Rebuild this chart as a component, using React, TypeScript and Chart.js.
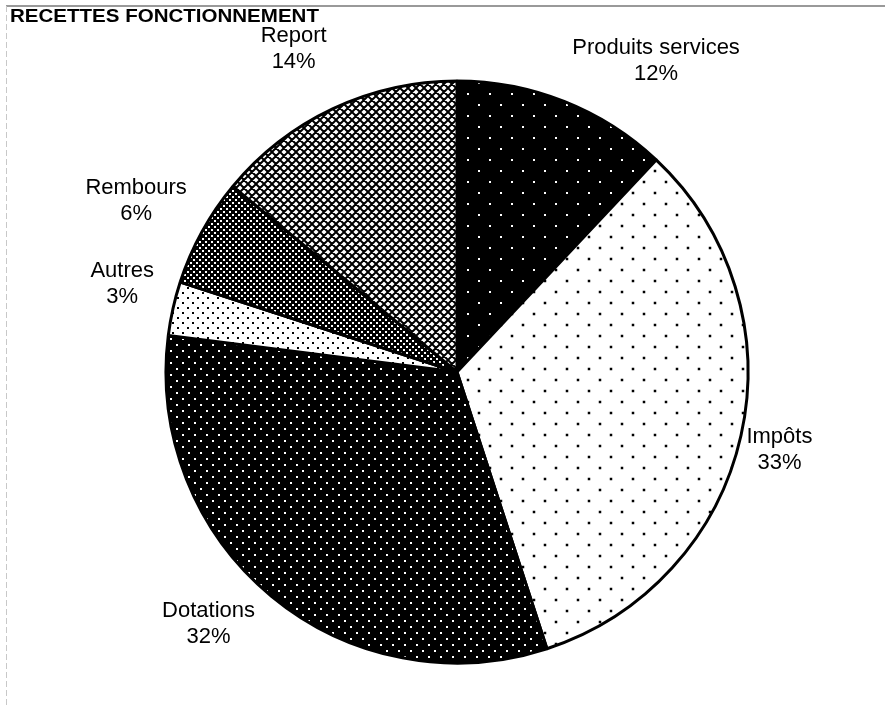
import React, { useEffect, useRef } from "react";
import { Chart, registerables } from "chart.js";

Chart.register(...registerables);

const chartTitle = "RECETTES FONCTIONNEMENT";
const categories = ["Produits services", "Impôts", "Dotations", "Autres", "Rembours", "Report"];
const values = [12, 33, 32, 3, 6, 14];

// label placement: shift from slice mid-angle (degrees) and distance as multiple of radius
const labelAngleShift = [11, 1, 5, 2.2, -0.7, -1.6];
const labelDistance = [1.27, 1.14, 1.216, 1.19, 1.25, 1.245];

const FONT = "'Liberation Sans', Arial, Helvetica, sans-serif";

function tile(w: number, h: number, draw: (c: CanvasRenderingContext2D) => void): CanvasPattern | string {
  const cv = document.createElement("canvas");
  cv.width = w;
  cv.height = h;
  const c = cv.getContext("2d")!;
  draw(c);
  const p = document.createElement("canvas").getContext("2d")!.createPattern(cv, "repeat");
  return p || "#000";
}

function dotTile(size: number, bg: string, fg: string, d: number) {
  return tile(size, size, (c) => {
    c.fillStyle = bg;
    c.fillRect(0, 0, size, size);
    c.fillStyle = fg;
    const a = Math.round(size / 4);
    const b = a + size / 2;
    c.fillRect(a - d / 2, a - d / 2, d, d);
    c.fillRect(b - d / 2, b - d / 2, d, d);
  });
}

function hatchTile(size: number, lw: number) {
  return tile(size, size, (c) => {
    c.fillStyle = "#fff";
    c.fillRect(0, 0, size, size);
    c.strokeStyle = "#000";
    c.lineWidth = lw;
    c.beginPath();
    for (let k = -1; k <= 1; k++) {
      c.moveTo(k * size, 0);
      c.lineTo(k * size + size, size);
      c.moveTo(k * size + size, 0);
      c.lineTo(k * size, size);
    }
    c.stroke();
  });
}

const framePlugin = {
  id: "frame",
  beforeDraw(chart: any) {
    const ctx = chart.ctx;
    ctx.save();
    ctx.fillStyle = "#fff";
    ctx.fillRect(0, 0, chart.width, chart.height);
    ctx.strokeStyle = "#777";
    ctx.lineWidth = 1.5;
    ctx.beginPath();
    ctx.moveTo(6, 6);
    ctx.lineTo(chart.width, 6);
    ctx.stroke();
    ctx.strokeStyle = "#c8c8c8";
    ctx.lineWidth = 1;
    ctx.setLineDash([6, 3]);
    ctx.beginPath();
    ctx.moveTo(6.5, 6);
    ctx.lineTo(6.5, chart.height);
    ctx.stroke();
    ctx.restore();
  },
};

const labelPlugin = {
  id: "sliceLabels",
  afterDatasetsDraw(chart: any) {
    const ctx = chart.ctx;
    const meta = chart.getDatasetMeta(0);
    const data = chart.data.datasets[0].data as number[];
    const total = data.reduce((s, v) => s + v, 0);
    ctx.save();
    ctx.fillStyle = "#000";
    ctx.textAlign = "center";
    ctx.textBaseline = "middle";
    ctx.font = `22px ${FONT}`;
    meta.data.forEach((arc: any, i: number) => {
      const p = arc.getProps(["x", "y", "startAngle", "endAngle", "outerRadius"], true);
      const a = (p.startAngle + p.endAngle) / 2 + (labelAngleShift[i] * Math.PI) / 180;
      const r = p.outerRadius * labelDistance[i];
      const cx = p.x + Math.cos(a) * r;
      const cy = p.y + Math.sin(a) * r;
      ctx.fillText(chart.data.labels[i], cx, cy - 13);
      ctx.fillText(Math.round((data[i] / total) * 100) + "%", cx, cy + 13);
    });
    ctx.textAlign = "left";
    ctx.font = `bold 19px ${FONT}`;
    ctx.translate(10, 17);
    ctx.scale(1.08, 1);
    ctx.fillText(chartTitle, 0, 0);
    ctx.restore();
  },
};

export default function App() {
  const ref = useRef<HTMLCanvasElement>(null);
  useEffect(() => {
    document.body.style.margin = "0";
    const patterns = [
      dotTile(22, "#000", "#fff", 2),
      dotTile(22, "#fff", "#000", 2.5),
      dotTile(12, "#000", "#fff", 2),
      dotTile(10, "#fff", "#000", 2),
      dotTile(6, "#000", "#fff", 2),
      hatchTile(8, 2),
    ];
    const chart = new Chart(ref.current!, {
      type: "pie",
      data: {
        labels: categories,
        datasets: [
          {
            data: values,
            backgroundColor: patterns as any,
            borderColor: "#000",
            borderWidth: 3,
            hoverOffset: 0,
          },
        ],
      },
      options: {
        responsive: false,
        animation: false,
        devicePixelRatio: 1,
        radius: 291,
        layout: { padding: { left: 29, right: 0, top: 39, bottom: 0 } },
        plugins: {
          legend: { display: false },
          tooltip: { enabled: false },
          title: { display: false },
        },
        events: [],
      } as any,
      plugins: [framePlugin, labelPlugin],
    });
    return () => chart.destroy();
  }, []);
  return <canvas ref={ref} width={885} height={705} style={{ display: "block" }} />;
}
